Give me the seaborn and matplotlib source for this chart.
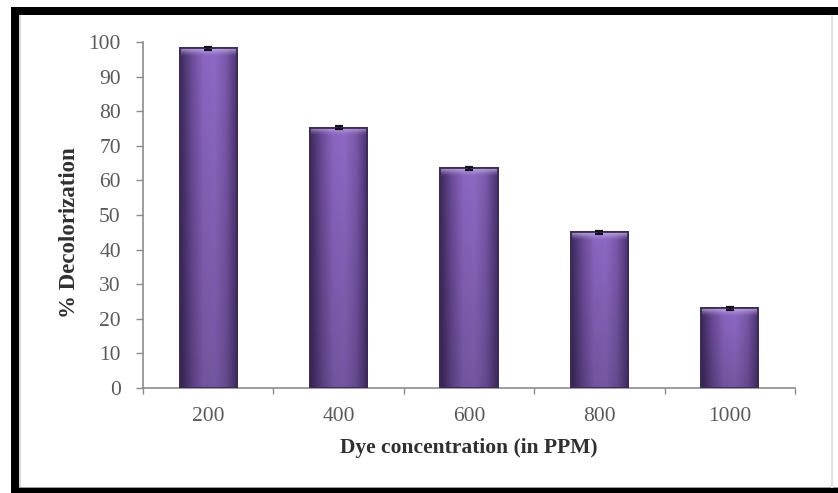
import numpy as np
import pandas as pd
import seaborn as sns
import matplotlib.pyplot as plt
from matplotlib.patches import Rectangle
from matplotlib.colors import LinearSegmentedColormap

# Decolorization of dye at different starting concentrations
concentrations = ["200", "400", "600", "800", "1000"]
decolorization = [98.2, 75.2, 63.5, 45.0, 23.0]
std_err = [0.4, 0.4, 0.4, 0.5, 0.4]

df = pd.DataFrame({"conc": concentrations, "decol": decolorization})

sns.set_theme(style="white")
plt.rcParams["font.family"] = ["Liberation Serif", "DejaVu Serif"]

W, H = 838, 493
fig = plt.figure(figsize=(W / 100, H / 100), dpi=100)
fig.patch.set_facecolor("white")

# black picture frame (left, top, bottom) and faint inner panel edges
frame = dict(transform=fig.transFigure, facecolor="black", edgecolor="none", zorder=0)
fig.patches.append(Rectangle((11 / W, 0), 8 / W, 1 - 7 / H, **frame))
fig.patches.append(Rectangle((11 / W, 1 - 15 / H), 1, 8 / H, **frame))
fig.patches.append(Rectangle((11 / W, 0), 1, 5 / H, **frame))
fig.patches.append(Rectangle((19 / W, 5 / H), 1.5 / W, 1 - 20 / H,
                             transform=fig.transFigure, facecolor="#d8d8d8",
                             edgecolor="none", zorder=0))
fig.patches.append(Rectangle((19 / W, 5 / H), 1, 1.5 / H,
                             transform=fig.transFigure, facecolor="#9a9a9a",
                             edgecolor="none", zorder=0))
fig.patches.append(Rectangle((831 / W, 5 / H), 1.5 / W, 1 - 20 / H,
                             transform=fig.transFigure, facecolor="#e2e2e2",
                             edgecolor="none", zorder=0))

ax = fig.add_axes([143 / W, 1 - 388 / H, (795 - 143) / W, (388 - 42) / H])
ax.set_facecolor("none")

sns.barplot(data=df, x="conc", y="decol", color="#7a58a6", width=0.44,
            edgecolor="#3b2a57", linewidth=1.2, ax=ax, zorder=2)
bars = list(ax.patches)

# cylinder-like shading on each bar
shade = LinearSegmentedColormap.from_list(
    "shade", ["#3e2a5e", "#6b4b98", "#8a66c0", "#8d6ac4", "#7a58ab", "#4a3370"])
for p in bars:
    x0, y0 = p.get_x(), p.get_y()
    w, h = p.get_width(), p.get_height()
    nrows = max(int(h * 4), 4)
    xs = np.linspace(0, 1, 80)
    ys = np.linspace(1, 0, nrows)  # top to bottom
    horiz = shade(xs)[:, :3]
    img = np.tile(horiz[None, :, :], (nrows, 1, 1))
    # darker toward the base
    fade = 0.82 + 0.18 * ys
    img = img * fade[:, None, None]
    # light highlight band at the top
    top_units = 100 * 8 / 346
    band = np.clip(1 - (h * (1 - ys)) / top_units, 0, 1) ** 1.5
    light = np.array([0.82, 0.75, 0.94])
    img = img * (1 - 0.75 * band[:, None, None]) + light * 0.75 * band[:, None, None]
    im = ax.imshow(np.clip(img, 0, 1), extent=(x0, x0 + w, y0, y0 + h),
                   aspect="auto", zorder=3, interpolation="bilinear")
    im.set_clip_path(p)
    ax.add_patch(Rectangle((x0, y0), w, h, facecolor="none",
                           edgecolor="#3b2a57", linewidth=1.3, zorder=4))

centers = [p.get_x() + p.get_width() / 2 for p in bars]
ax.errorbar(centers, decolorization, yerr=std_err, fmt="none",
            ecolor="#151020", elinewidth=1.2, capsize=3, capthick=1.6, zorder=5)

ax.set_xlim(-0.5, len(concentrations) - 0.5)
ax.set_ylim(0, 100)
ax.set_yticks(range(0, 101, 10))

for side in ["top", "right"]:
    ax.spines[side].set_visible(False)
for side in ["left", "bottom"]:
    ax.spines[side].set_color("#8c8c8c")
    ax.spines[side].set_linewidth(1.2)

# category ticks sit between the bars
ax.set_xticks(np.arange(-0.5, len(concentrations), 1.0), minor=False)
ax.set_xticklabels([])
ax.set_xticks(range(len(concentrations)), minor=True)
ax.set_xticklabels(concentrations, minor=True)
ax.tick_params(axis="x", which="major", direction="out", length=4, width=1,
               color="#8c8c8c", bottom=True)
ax.tick_params(axis="x", which="minor", length=0, pad=14, labelsize=15.5,
               labelcolor="#5a5a5a")
ax.tick_params(axis="y", direction="out", length=5, width=1, color="#8c8c8c",
               pad=11, labelsize=15.5, labelcolor="#5a5a5a", left=True)

ax.set_xlabel("Dye concentration (in PPM)", fontsize=15.5, fontweight="bold",
              color="#303030", labelpad=8)
ax.set_ylabel("% Decolorization", fontsize=16.5, fontweight="bold",
              color="#303030")
ax.yaxis.set_label_coords(-0.096, 0.45)

fig.savefig("out.png", dpi=100)
